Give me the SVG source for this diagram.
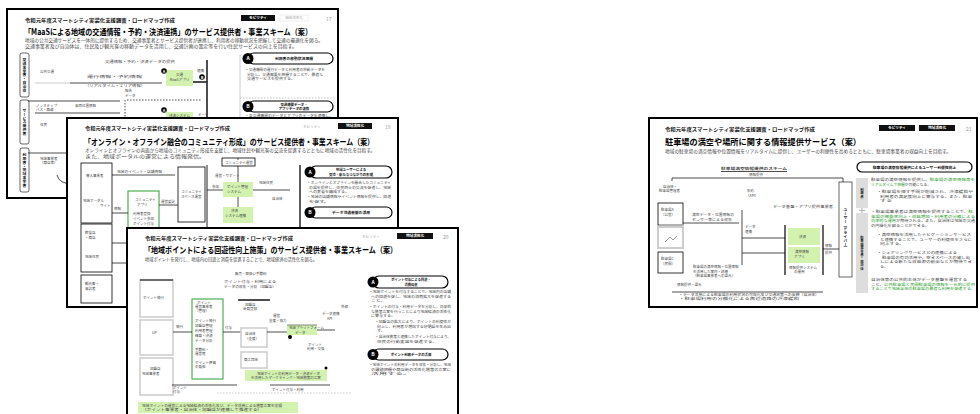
<svg xmlns="http://www.w3.org/2000/svg" width="980" height="414" viewBox="0 0 980 414">
<style>
 .fr{fill:#fff;stroke:#000;stroke-width:2}
 text{font-family:"Noto Sans CJK JP","Noto Sans",sans-serif}
 .hd{font-size:5px;font-weight:bold;fill:#111}
 .tt{font-size:8.5px;font-weight:bold;fill:#000}
 .st{font-size:4.4px;fill:#444}
 .xs{font-size:3.5px;fill:#444}
 .xb{font-size:3.8px;font-weight:bold;fill:#111}
 .tb{fill:#111}
 .tw{font-size:3.6px;font-weight:bold;fill:#fff}
 .tg{font-size:3.6px;fill:#aaa}
 .pg{font-size:5px;fill:#999}
 .pl{fill:#fff;stroke:#000;stroke-width:1.2}
 .cb{fill:#000}
 .cl{font-size:5px;font-weight:bold;fill:#fff}
 .gb{fill:#d3f2b0}
 .go{fill:#fff;stroke:#4caf50;stroke-width:1.2}
 .ln{stroke:#000;stroke-width:0.7;fill:none}
 .lg{stroke:#aaa;stroke-width:0.6;fill:none}
 .lt{stroke:#222;stroke-width:1.6;fill:none}
 .ds{stroke:#000;stroke-width:0.7;stroke-dasharray:1.5 1.5;fill:none}
 .bx{fill:#fff;stroke:#000;stroke-width:0.8}
 .gx{fill:#fff;stroke:#cfcfcf;stroke-width:1.6}
 .gt{fill:#1e9a1e}
 .vl{fill:#fff;stroke:#000;stroke-width:0.6}
</style>

<g id="slide1" transform="translate(7,9)">
 <rect class="fr" x="0" y="0" width="331" height="189"/>
 <text class="hd" x="18" y="13" textLength="150" lengthAdjust="spacingAndGlyphs">令和元年度スマートシティ実装化支援調査・ロードマップ作成</text>
 <rect class="tb" x="234" y="6" width="34" height="6"/>
 <text class="tw" x="251" y="10.4" text-anchor="middle">モビリティ</text>
 <rect x="273" y="6" width="28" height="6" fill="#fff" stroke="#ddd" stroke-width="0.5"/>
 <text class="tg" x="287" y="10.4" text-anchor="middle">地域活性化</text>
 <text class="pg" x="319" y="12">17</text>
 <text class="tt" x="17" y="26" textLength="288" lengthAdjust="spacingAndGlyphs">「MaaSによる地域の交通情報・予約・決済連携」のサービス提供者・事業スキーム（案）</text>
 <text class="st" x="18" y="33" textLength="298" lengthAdjust="spacingAndGlyphs">地域の公共交通サービスを一体的に提供するため、交通事業者とサービス提供者が連携し、利用者の移動状況を把握して交通の最適化を図る。</text>
 <text class="st" x="18" y="39" textLength="272" lengthAdjust="spacingAndGlyphs">交通事業者及び自治体は、住民及び観光客の移動データを活用し、交通計画の策定等を行い住民サービスの向上を目指す。</text>
 <rect class="vl" x="13" y="44" width="9" height="44" rx="2"/>
 <text class="xb" x="17.5" y="66" text-anchor="middle" style="writing-mode:vertical-rl">交通事業者・自治体</text>
 <rect class="vl" x="13" y="91" width="9" height="44" rx="2"/>
 <text class="xb" x="17.5" y="113" text-anchor="middle" style="writing-mode:vertical-rl">サービス提供者</text>
 <rect class="vl" x="13" y="139" width="9" height="44" rx="2"/>
 <text class="xb" x="17.5" y="161" text-anchor="middle" style="writing-mode:vertical-rl">利用者・地域事業者</text>
 <text class="xs" x="98" y="54" textLength="70" lengthAdjust="spacingAndGlyphs">交通情報・予約・決済データの提供</text>
 <text class="xs" x="33" y="64">公共交通</text>
 <line class="lg" x1="28" y1="74" x2="63" y2="74"/>
 <line class="ln" x1="63" y1="74" x2="155" y2="74"/>
 <text class="xs" x="80" y="69" textLength="55" lengthAdjust="spacingAndGlyphs">運行情報・予約情報</text>
 <text class="xs" x="78" y="78" textLength="60" lengthAdjust="spacingAndGlyphs">（リアルタイム・エリア情報）</text>
 <rect class="gb" x="159" y="61" width="27" height="16"/>
 <text class="xs" x="172.5" y="67" text-anchor="middle">交通</text>
 <text class="xs" x="172.5" y="72" text-anchor="middle">MaaSアプリ</text>
 <circle class="cb" cx="157" cy="62" r="2.8"/>
 <text class="cl" x="157" y="63.6" text-anchor="middle" style="font-size:4px">A</text>
 <circle class="cb" cx="195" cy="68" r="2.8"/>
 <text class="cl" x="195" y="69.6" text-anchor="middle" style="font-size:4px">B</text>
 <line class="lt" x1="186" y1="73" x2="200" y2="73"/>
 <line class="lt" x1="200" y1="51" x2="200" y2="189"/>
 <text class="xs" x="190" y="63">連携</text>
 <text class="xs" x="118" y="83">報告</text>
 <text class="xs" x="118" y="88">データ</text>
 <line class="ds" x1="118" y1="91" x2="118" y2="189"/>
 <line class="ln" x1="21" y1="92" x2="113" y2="92"/>
 <line class="ds" x1="120" y1="91" x2="195" y2="91"/>
 <text class="xs" x="29" y="98">ノンステップ</text>
 <text class="xs" x="29" y="102">バス・路線</text>
 <text class="xs" x="68" y="98">車両位置情報</text>
 <line class="ln" x1="28" y1="104" x2="113" y2="104"/>
 <circle class="cb" cx="157" cy="101" r="2.8"/>
 <text class="cl" x="157" y="102.6" text-anchor="middle" style="font-size:4px">A</text>
 <rect class="gb" x="159" y="103" width="27" height="6"/>
 <text class="xs" x="172.5" y="107.5" text-anchor="middle">決済システム</text>
 <text class="xs" x="191" y="107">データ</text>
 <text class="xs" x="33" y="117">住民</text>
 <line class="ln" x1="21" y1="144" x2="193" y2="144"/>
 <text class="xs" x="33" y="151">地域事業者</text>
 <text class="xs" x="33" y="155">（商店等）</text>
 <path class="ln" d="M50,166 Q52,175 66,175"/>
 <line class="lg" x1="233" y1="46" x2="233" y2="189"/>
 <rect class="pl" x="241" y="44" width="85" height="11" rx="5.5"/>
 <circle class="cb" cx="241" cy="49.5" r="5.5"/>
 <text class="cl" x="241" y="51.3" text-anchor="middle">A</text>
 <text class="xb" x="287" y="51" text-anchor="middle">利用者の移動状況把握</text>
 <text class="xs" x="238" y="62" textLength="80" lengthAdjust="spacingAndGlyphs">・交通機関の運行データと利用者の移動データを</text>
 <text class="xs" x="240" y="66.5" textLength="76" lengthAdjust="spacingAndGlyphs">分析し、交通需要を把握することで、最適な</text>
 <text class="xs" x="240" y="71" textLength="48" lengthAdjust="spacingAndGlyphs">交通サービスを提供する。</text>
 <line class="ds" x1="233" y1="89" x2="329" y2="89" style="stroke:#aaa"/>
 <rect class="pl" x="241" y="92" width="85" height="11" rx="5.5"/>
 <circle class="cb" cx="241" cy="97.5" r="5.5"/>
 <text class="cl" x="241" y="99.3" text-anchor="middle">B</text>
 <text class="xb" x="287" y="96.8" text-anchor="middle" style="font-size:3.4px">交通機関データ・</text>
 <text class="xb" x="287" y="101" text-anchor="middle" style="font-size:3.4px">アプリデータの連携</text>
 <text class="xs" x="238" y="107.5" textLength="88" lengthAdjust="spacingAndGlyphs">・各交通機関のデータとアプリのデータを連携し、</text>
</g>

<g id="slide2" transform="translate(67,118)">
 <rect class="fr" x="0" y="0" width="331" height="189"/>
 <text class="hd" x="18" y="12" textLength="145" lengthAdjust="spacingAndGlyphs">令和元年度スマートシティ実装化支援調査・ロードマップ作成</text>
 <text class="tg" x="236" y="9.5">モビリティ</text>
 <rect class="tb" x="271" y="5" width="34" height="6"/>
 <text class="tw" x="288" y="9.4" text-anchor="middle">地域活性化</text>
 <text class="pg" x="318" y="11">19</text>
 <text class="tt" x="17" y="27" textLength="290" lengthAdjust="spacingAndGlyphs">「オンライン・オフライン融合のコミュニティ形成」のサービス提供者・事業スキーム（案）</text>
 <text class="st" x="18" y="33.5" textLength="290" lengthAdjust="spacingAndGlyphs">オンラインとオフラインの両面から地域のコミュニティ形成を支援し、地域住民や観光客の交流を促進するとともに地域の活性化を目指す。</text>
 <text class="st" x="18" y="39.5" textLength="120" lengthAdjust="spacingAndGlyphs">また、地域ポータルの運営による情報発信。</text>
 <rect class="bx" x="14" y="45" width="31" height="60"/>
 <text class="xs" x="19" y="59">導入事業者</text>
 <text class="xs" x="16" y="84">地域ポータル</text>
 <text class="xs" x="33" y="89">サイト</text>
 <line class="ln" x1="45" y1="57" x2="108" y2="57"/>
 <text class="xs" x="50" y="55" textLength="45" lengthAdjust="spacingAndGlyphs">地域のイベント・店舗情報</text>
 <rect class="go" x="61" y="73" width="31" height="60"/>
 <text class="xs" x="68" y="83">コミュニティ</text>
 <text class="xs" x="70" y="88">アプリ</text>
 <text class="xs" x="66" y="97">利用者登録</text>
 <text class="xs" x="66" y="102">イベント参加</text>
 <text class="xs" x="66" y="107">ポイント付与</text>
 <line class="ln" x1="45" y1="95" x2="61" y2="95"/>
 <text class="xs" x="47" y="92">情報</text>
 <rect class="bx" x="111" y="49" width="27" height="55"/>
 <text class="xs" x="114" y="75">コミュニティ</text>
 <text class="xs" x="114" y="80">スペース運営</text>
 <line class="ln" x1="92" y1="87" x2="111" y2="87"/>
 <text class="xs" x="94" y="85">運営委託</text>
 <line class="lt" x1="140" y1="47" x2="140" y2="112" style="stroke-width:1"/>
 <rect class="bx" x="155" y="40" width="33" height="8"/>
 <text class="xs" x="158" y="45.5">コミュニティ運営</text>
 <line class="ln" x1="171" y1="42" x2="171" y2="40"/>
 <line class="ln" x1="171" y1="48" x2="171" y2="64"/>
 <text class="xs" x="148" y="59">運営・サポート</text>
 <line class="ln" x1="140" y1="72" x2="223" y2="72"/>
 <rect class="gb" x="156" y="64" width="30" height="15"/>
 <text class="xs" x="160" y="70">ポイント管理</text>
 <text class="xs" x="160" y="75">システム</text>
 <rect class="gb" x="156" y="89" width="30" height="16"/>
 <text class="xs" x="164" y="94">決済</text>
 <text class="xs" x="158" y="99">システム連携</text>
 <text class="xs" x="145" y="70">参加</text>
 <text class="xs" x="192" y="66">地域住民</text>
 <text class="xs" x="205" y="82">自治体</text>
 <line class="ln" x1="171" y1="79" x2="171" y2="89"/>
 <line class="lt" x1="233" y1="47" x2="233" y2="112" style="stroke:#333"/>
 <rect class="pl" x="243" y="48" width="82" height="12" rx="6"/>
 <circle class="cb" cx="243" cy="54" r="5.5"/>
 <text class="cl" x="243" y="55.8" text-anchor="middle">A</text>
 <text class="xb" x="284" y="53.3" text-anchor="middle" style="font-size:3.4px">地域ユーザーによる</text>
 <text class="xb" x="284" y="57.6" text-anchor="middle" style="font-size:3.4px">交流・新たなつながりの形成</text>
 <text class="xs" x="240" y="66" textLength="84" lengthAdjust="spacingAndGlyphs">・オンラインとオフラインを融合したコミュニティ</text>
 <text class="xs" x="242" y="70.5" textLength="82" lengthAdjust="spacingAndGlyphs">の場を提供し、住民同士の交流を促進し、地域</text>
 <text class="xs" x="242" y="75" textLength="40" lengthAdjust="spacingAndGlyphs">への愛着を醸成する。</text>
 <text class="xs" x="240" y="80" textLength="84" lengthAdjust="spacingAndGlyphs">・地域の店舗情報やイベント情報を提供し、回遊</text>
 <text class="xs" x="242" y="84.5" textLength="20" lengthAdjust="spacingAndGlyphs">を促す。</text>
 <rect class="pl" x="243" y="89" width="82" height="11" rx="5.5"/>
 <circle class="cb" cx="243" cy="94.5" r="5.5"/>
 <text class="cl" x="243" y="96.3" text-anchor="middle">B</text>
 <text class="xb" x="284" y="96" text-anchor="middle">データ流通基盤の活用</text>
 <rect class="bx" x="14" y="106" width="31" height="48"/>
 <text class="xs" x="18" y="116">飲食店</text>
 <text class="xs" x="18" y="121">・商店</text>
 <text class="xs" x="18" y="140">地域住民</text>
 <line class="ln" x1="45" y1="125" x2="60" y2="125"/>
 <line class="ln" x1="45" y1="145" x2="60" y2="145"/>
 <rect class="bx" x="14" y="157" width="31" height="28"/>
 <text class="xs" x="18" y="167">観光客・</text>
 <text class="xs" x="18" y="172">来訪者</text>
</g>

<g id="slide3" transform="translate(127,228)">
 <rect class="fr" x="0" y="0" width="331" height="189"/>
 <text class="hd" x="18" y="12" textLength="148" lengthAdjust="spacingAndGlyphs">令和元年度スマートシティ実装化支援調査・ロードマップ作成</text>
 <text class="tg" x="235" y="9.5">モビリティ</text>
 <rect class="tb" x="270" y="5" width="36" height="6"/>
 <text class="tw" x="288" y="9.4" text-anchor="middle">地域活性化</text>
 <text class="pg" x="316" y="11">20</text>
 <text class="tt" x="17" y="25" textLength="253" lengthAdjust="spacingAndGlyphs">「地域ポイントによる回遊性向上施策」のサービス提供者・事業スキーム（案）</text>
 <text class="st" x="18" y="33" textLength="172" lengthAdjust="spacingAndGlyphs">地域ポイントを発行し、地域内の回遊と消費を促進することで、地域経済の活性化を図る。</text>
 <rect class="gx" x="13" y="52" width="33" height="37"/>
 <line class="ln" x1="13" y1="52" x2="46" y2="52" style="stroke-width:1.2"/>
 <text class="xs" x="16" y="71">ポイント発行</text>
 <rect class="gx" x="13" y="92" width="33" height="35"/>
 <text class="xs" x="25" y="106">UP</text>
 <rect class="gx" x="13" y="130" width="33" height="37"/>
 <text class="xs" x="23" y="142">加盟店</text>
 <text class="xs" x="15" y="147">地域事業者</text>
 <rect class="go" x="65" y="71" width="31" height="80"/>
 <text class="xs" x="70" y="76">ポイント</text>
 <text class="xs" x="68" y="80">運営事業者</text>
 <text class="xs" x="68" y="84">（管理）</text>
 <text class="xs" x="68" y="94">ポイント発行</text>
 <text class="xs" x="68" y="99">加盟店管理</text>
 <text class="xs" x="68" y="104">利用者管理</text>
 <text class="xs" x="68" y="109">精算・決済</text>
 <text class="xs" x="68" y="114">データ分析</text>
 <text class="xs" x="68" y="123">手数料・</text>
 <text class="xs" x="68" y="127">運営費</text>
 <text class="xs" x="68" y="136">ポイント原資</text>
 <text class="xs" x="68" y="140">の負担</text>
 <text class="xs" x="108" y="47">販売・取扱い手数料</text>
 <text class="xs" x="97" y="55" textLength="52" lengthAdjust="spacingAndGlyphs">ポイント付与・利用による</text>
 <text class="xs" x="97" y="60" textLength="52" lengthAdjust="spacingAndGlyphs">データの収集・分析（加盟店）</text>
 <line class="lt" x1="111" y1="72" x2="143" y2="72"/>
 <text class="xs" x="118" y="78">加盟店</text>
 <text class="xs" x="116" y="82">会員登録</text>
 <line class="ln" x1="46" y1="104" x2="65" y2="104"/>
 <text class="xs" x="49" y="100">発行</text>
 <line class="ln" x1="96" y1="104" x2="114" y2="104"/>
 <text class="xs" x="98" y="101">付与</text>
 <rect class="gx" x="114" y="100" width="26" height="19"/>
 <text class="xs" x="118" y="107">自治体</text>
 <text class="xs" x="118" y="112">（支援）</text>
 <rect class="gx" x="114" y="124" width="26" height="16"/>
 <text class="xs" x="117" y="133">商工団体</text>
 <line class="ln" x1="140" y1="104" x2="160" y2="104"/>
 <text class="xs" x="146" y="89">運営</text>
 <text class="xs" x="142" y="94">支援・協力</text>
 <rect class="gb" x="160" y="97" width="30" height="10"/>
 <line class="ln" x1="160" y1="97" x2="190" y2="97" style="stroke:#555"/>
 <text class="xs" x="162" y="101">地域プラットフォーム</text>
 <text class="xs" x="168" y="105.5">データ</text>
 <circle class="cb" cx="163" cy="109" r="2"/>
 <text class="xs" x="195" y="87">データ連携</text>
 <text class="xs" x="200" y="92">API</text>
 <text class="xs" x="214" y="80">外部</text>
 <text class="xs" x="181" y="118">ポイント</text>
 <text class="xs" x="180" y="122">利用・交換</text>
 <line class="ln" x1="190" y1="102" x2="208" y2="102"/>
 <rect class="gb" x="118" y="142" width="82" height="11"/>
 <text class="xs" x="130" y="146.5">地域ポイントの利用データ・決済データ</text>
 <text class="xs" x="124" y="151">を活用したマーケティング・地域施策の立案</text>
 <circle class="cb" cx="199" cy="140" r="1.5"/>
 <line class="ln" x1="45" y1="157" x2="110" y2="157"/>
 <text class="xs" x="46" y="161">ポイント</text>
 <text class="xs" x="46" y="165">付与</text>
 <line class="ln" x1="143" y1="157" x2="203" y2="157"/>
 <line class="ds" x1="90" y1="165" x2="225" y2="165" style="stroke:#bbb"/>
 <text class="xs" x="145" y="163">ポイント付与・利用</text>
 <rect class="gb" x="11" y="174" width="160" height="11"/>
 <text class="xs" x="15" y="178.5" textLength="140" lengthAdjust="spacingAndGlyphs">地域ポイントの運営による地域経済の活性化及び、データ活用による施策立案を実現</text>
 <text class="xs" x="15" y="183" textLength="120" lengthAdjust="spacingAndGlyphs">（ポイント事業者・自治体・加盟店が連携して推進する）</text>
 <rect class="pl" x="246" y="48" width="75" height="12" rx="6"/>
 <circle class="cb" cx="246" cy="54" r="5.5"/>
 <text class="cl" x="246" y="55.8" text-anchor="middle">A</text>
 <text class="xb" x="284" y="53.3" text-anchor="middle" style="font-size:3.3px">ポイント付与による回遊・</text>
 <text class="xb" x="284" y="57.6" text-anchor="middle" style="font-size:3.3px">消費促進</text>
 <text class="xs" x="242" y="65" textLength="82" lengthAdjust="spacingAndGlyphs">・地域ポイントを付与することで、地域内の店舗</text>
 <text class="xs" x="244" y="69.5" textLength="80" lengthAdjust="spacingAndGlyphs">への回遊を促し、地域の消費拡大を促進する</text>
 <text class="xs" x="244" y="74" textLength="14" lengthAdjust="spacingAndGlyphs">こと。</text>
 <text class="xs" x="242" y="80" textLength="82" lengthAdjust="spacingAndGlyphs">・ポイントの付与・利用データを分析し、効果的</text>
 <text class="xs" x="244" y="84.5" textLength="80" lengthAdjust="spacingAndGlyphs">な施策立案を行うことにより地域経済の活性化</text>
 <text class="xs" x="244" y="89" textLength="24" lengthAdjust="spacingAndGlyphs">に寄与する。</text>
 <text class="xs" x="248" y="95" textLength="76" lengthAdjust="spacingAndGlyphs">・加盟店の拡大により、ポイントの利便性が</text>
 <text class="xs" x="250" y="99.5" textLength="74" lengthAdjust="spacingAndGlyphs">向上し、利用者が増加する好循環を生み出</text>
 <text class="xs" x="250" y="104" textLength="8" lengthAdjust="spacingAndGlyphs">す。</text>
 <text class="xs" x="248" y="110" textLength="76" lengthAdjust="spacingAndGlyphs">・自治体施策と連携したポイント付与により、</text>
 <text class="xs" x="250" y="114.5" textLength="60" lengthAdjust="spacingAndGlyphs">住民の行動変容を促進する。</text>
 <rect class="pl" x="246" y="121" width="75" height="11" rx="5.5"/>
 <circle class="cb" cx="246" cy="126.5" r="5.5"/>
 <text class="cl" x="246" y="128.3" text-anchor="middle">B</text>
 <text class="xb" x="284" y="128" text-anchor="middle" style="font-size:3.4px">ポイント利用データの活用</text>
 <text class="xs" x="242" y="138" textLength="82" lengthAdjust="spacingAndGlyphs">・地域ポイントの利用データを収集・分析し、地域</text>
 <text class="xs" x="244" y="142.5" textLength="80" lengthAdjust="spacingAndGlyphs">の課題把握や商店街の活性化施策の立案に</text>
 <text class="xs" x="244" y="147" textLength="40" lengthAdjust="spacingAndGlyphs">活用する。</text>
</g>

<g id="slide4" transform="translate(649,118)">
 <rect class="fr" x="0" y="0" width="328" height="189"/>
 <text class="hd" x="16" y="13" textLength="150" lengthAdjust="spacingAndGlyphs">令和元年度スマートシティ実装化支援調査・ロードマップ作成</text>
 <rect class="tb" x="230" y="7" width="36" height="6"/>
 <text class="tw" x="248" y="11.4" text-anchor="middle">モビリティ</text>
 <rect class="tb" x="270" y="7" width="36" height="6"/>
 <text class="tw" x="288" y="11.4" text-anchor="middle">地域活性化</text>
 <text class="pg" x="317" y="13">21</text>
 <text class="tt" x="16" y="26.5" textLength="196" lengthAdjust="spacingAndGlyphs">駐車場の満空や場所に関する情報提供サービス（案）</text>
 <text class="st" x="16" y="35" textLength="286" lengthAdjust="spacingAndGlyphs">地域の駐車場の満空情報や位置情報をリアルタイムに提供し、ユーザーの利便性を高めるとともに、駐車場事業者の収益向上を目指す。</text>
 <rect class="pl" x="208" y="44" width="115" height="10" rx="5"/>
 <text class="xb" x="265.5" y="50.5" text-anchor="middle">駐車場の満空情報提供によるユーザー利便性向上</text>
 <text class="xs" x="72" y="52" textLength="66" lengthAdjust="spacingAndGlyphs" style="font-weight:bold">駐車場満空情報提供のスキーム</text>
 <line class="ln" x1="72" y1="53.5" x2="138" y2="53.5"/>
 <text class="xs" x="100" y="58">情報提供</text>
 <line class="ln" x1="23" y1="60" x2="194" y2="60"/>
 <line class="ln" x1="194" y1="60" x2="194" y2="64"/>
 <line class="ln" x1="23" y1="60" x2="23" y2="63"/>
 <text class="xs" x="14" y="70">自治体・</text>
 <text class="xs" x="10" y="74">駐車場管理者</text>
 <rect x="9" y="85" width="25" height="22" fill="#fff" stroke="#000" stroke-width="0.8"/>
 <line x1="10" y1="107" x2="34" y2="107" stroke="#bbb" stroke-width="1.5"/>
 <text class="xs" x="12" y="93">駐車場A</text>
 <text class="xs" x="12" y="98">（公営）</text>
 <rect x="9" y="109" width="25" height="21" fill="#fff" stroke="#c8c8c8" stroke-width="1.8"/>
 <path d="M16,124 L21,119 L24,122 L28,118" fill="none" stroke="#333" stroke-width="0.5"/>
 <rect x="9" y="134" width="25" height="21" fill="#fff" stroke="#000" stroke-width="0.8"/>
 <text class="xs" x="12" y="142">駐車場C</text>
 <text class="xs" x="12" y="147">（民間）</text>
 <text class="xs" x="43" y="98" textLength="42" lengthAdjust="spacingAndGlyphs">満空データ・位置情報の</text>
 <text class="xs" x="43" y="103" textLength="40" lengthAdjust="spacingAndGlyphs">センサー等による収集</text>
 <line class="ln" x1="34" y1="105" x2="90" y2="105"/>
 <line class="ln" x1="93" y1="92" x2="93" y2="147"/>
 <text class="xs" x="98" y="74">集約</text>
 <text class="xs" x="97" y="79">（API）</text>
 <text class="xs" x="96" y="110">データ</text>
 <text class="xs" x="96" y="115">連携</text>
 <text class="xs" x="124" y="90" textLength="60" lengthAdjust="spacingAndGlyphs">データ基盤・アプリ提供事業者</text>
 <line class="ln" x1="93" y1="120" x2="136" y2="120"/>
 <line class="ln" x1="93" y1="135" x2="136" y2="135"/>
 <line class="ln" x1="136" y1="107" x2="136" y2="157" style="stroke-width:1.2"/>
 <line class="ln" x1="174" y1="107" x2="174" y2="157" style="stroke-width:1.2"/>
 <rect class="gb" x="139" y="110" width="32" height="17"/>
 <text class="xs" x="150" y="120">決済</text>
 <rect class="gb" x="139" y="129" width="32" height="16"/>
 <text class="xs" x="146" y="135">満空情報</text>
 <text class="xs" x="145" y="140">アプリ</text>
 <text class="xs" x="140" y="151">情報提供システム</text>
 <text class="xs" x="145" y="155">の運用</text>
 <line class="ln" x1="174" y1="131" x2="190" y2="131"/>
 <text class="xs" x="176" y="129">情報</text>
 <text class="xs" x="176" y="136">提供</text>
 <rect class="vl" x="190" y="64" width="13" height="95"/>
 <text class="xb" x="196.5" y="111" text-anchor="middle" style="writing-mode:vertical-rl">ユーザー（ドライバー）</text>
 <rect x="207" y="60" width="12" height="30" fill="#ddd"/>
 <text class="xb" x="213" y="75" text-anchor="middle" style="writing-mode:vertical-rl;font-size:3.4px">利用者</text>
 <line x1="213" y1="90" x2="213" y2="95" stroke="#bbb" stroke-width="1.2"/>
 <line x1="210" y1="92.5" x2="216" y2="92.5" stroke="#bbb" stroke-width="1.2"/>
 <rect x="207" y="95" width="12" height="80" fill="#ddd"/>
 <text class="xb" x="213" y="135" text-anchor="middle" style="writing-mode:vertical-rl;font-size:3.4px">駐車場事業者・自治体</text>
 <text class="xs" x="222" y="63" textLength="104" lengthAdjust="spacingAndGlyphs">駐車場の満空情報を提供し、<tspan class="gt">駐車場の満空情報等を</tspan></text>
 <text class="xs gt" x="222" y="67.5" textLength="60" lengthAdjust="spacingAndGlyphs">リアルタイムで把握<tspan fill="#444">が可能になる。</tspan></text>
 <text class="xs" x="228" y="75" textLength="96" lengthAdjust="spacingAndGlyphs">・駐車場を探す手間が削減され、渋滞緩和や</text>
 <text class="xs" x="231" y="79.5" textLength="92" lengthAdjust="spacingAndGlyphs">利用者の満足度向上に寄与する。また、駐車</text>
 <text class="xs" x="231" y="84" textLength="12" lengthAdjust="spacingAndGlyphs">する</text>
 <text class="xs" x="222" y="95" textLength="102" lengthAdjust="spacingAndGlyphs">・駐車場事業者は満空情報を提供することで、<tspan class="gt">駐</tspan></text>
 <text class="xs gt" x="222" y="99.5" textLength="104" lengthAdjust="spacingAndGlyphs">車場の稼働率向上・収益増加・利用者の分散による</text>
 <text class="xs gt" x="222" y="104" textLength="104" lengthAdjust="spacingAndGlyphs">効率的な運用<tspan fill="#444">が期待される。また、自治体は地域の交通</tspan></text>
 <text class="xs" x="222" y="108.5" textLength="58" lengthAdjust="spacingAndGlyphs">の円滑化を図ることができる。</text>
 <text class="xs" x="228" y="118" textLength="94" lengthAdjust="spacingAndGlyphs">・満空情報を活用したナビゲーションサービス</text>
 <text class="xs" x="231" y="122.5" textLength="92" lengthAdjust="spacingAndGlyphs">と連携することで、ユーザーの利便性をさらに</text>
 <text class="xs" x="231" y="127" textLength="24" lengthAdjust="spacingAndGlyphs">向上する。</text>
 <text class="xs" x="228" y="136" textLength="80" lengthAdjust="spacingAndGlyphs">・シェアリングサービスとの連携による</text>
 <text class="xs" x="233" y="140.5" textLength="88" lengthAdjust="spacingAndGlyphs">駐車場の有効活用や、空きスペースの貸し出</text>
 <text class="xs" x="231" y="145" textLength="92" lengthAdjust="spacingAndGlyphs">しによる新たな収益源の創出などが期待でき</text>
 <text class="xs" x="231" y="149.5" textLength="8" lengthAdjust="spacingAndGlyphs">る。</text>
 <text class="xs" x="222" y="163" textLength="96" lengthAdjust="spacingAndGlyphs">自治体等の公共的主体がデータ基盤を運営する</text>
 <text class="xs" x="222" y="167.5" textLength="104" lengthAdjust="spacingAndGlyphs">こと、<tspan class="gt">公共駐車場と民間駐車場の情報を一元的に提供</tspan></text>
 <text class="xs gt" x="222" y="172" textLength="104" lengthAdjust="spacingAndGlyphs">することで地域全体の駐車場の最適な利用を促進する。</text>
 <text class="xs" x="44" y="150">駐車場の満空情報・位置情報</text>
 <text class="xs" x="44" y="154.5">を活用した案内・誘導</text>
 <text class="xs" x="44" y="159">（駐車場事業者への還元）</text>
 <text class="xs" x="28" y="168">情報提供・還元</text>
 <line class="ln" x1="23" y1="174" x2="174" y2="174"/>
 <text class="xs" x="30" y="178" textLength="140" lengthAdjust="spacingAndGlyphs">・データ活用による駐車場の利用状況の可視化及び交通政策への反映（自治体）</text>
 <text class="xs" x="30" y="182" textLength="120" lengthAdjust="spacingAndGlyphs">・駐車場利用の分散化による周辺道路の渋滞緩和</text>
</g>
</svg>
